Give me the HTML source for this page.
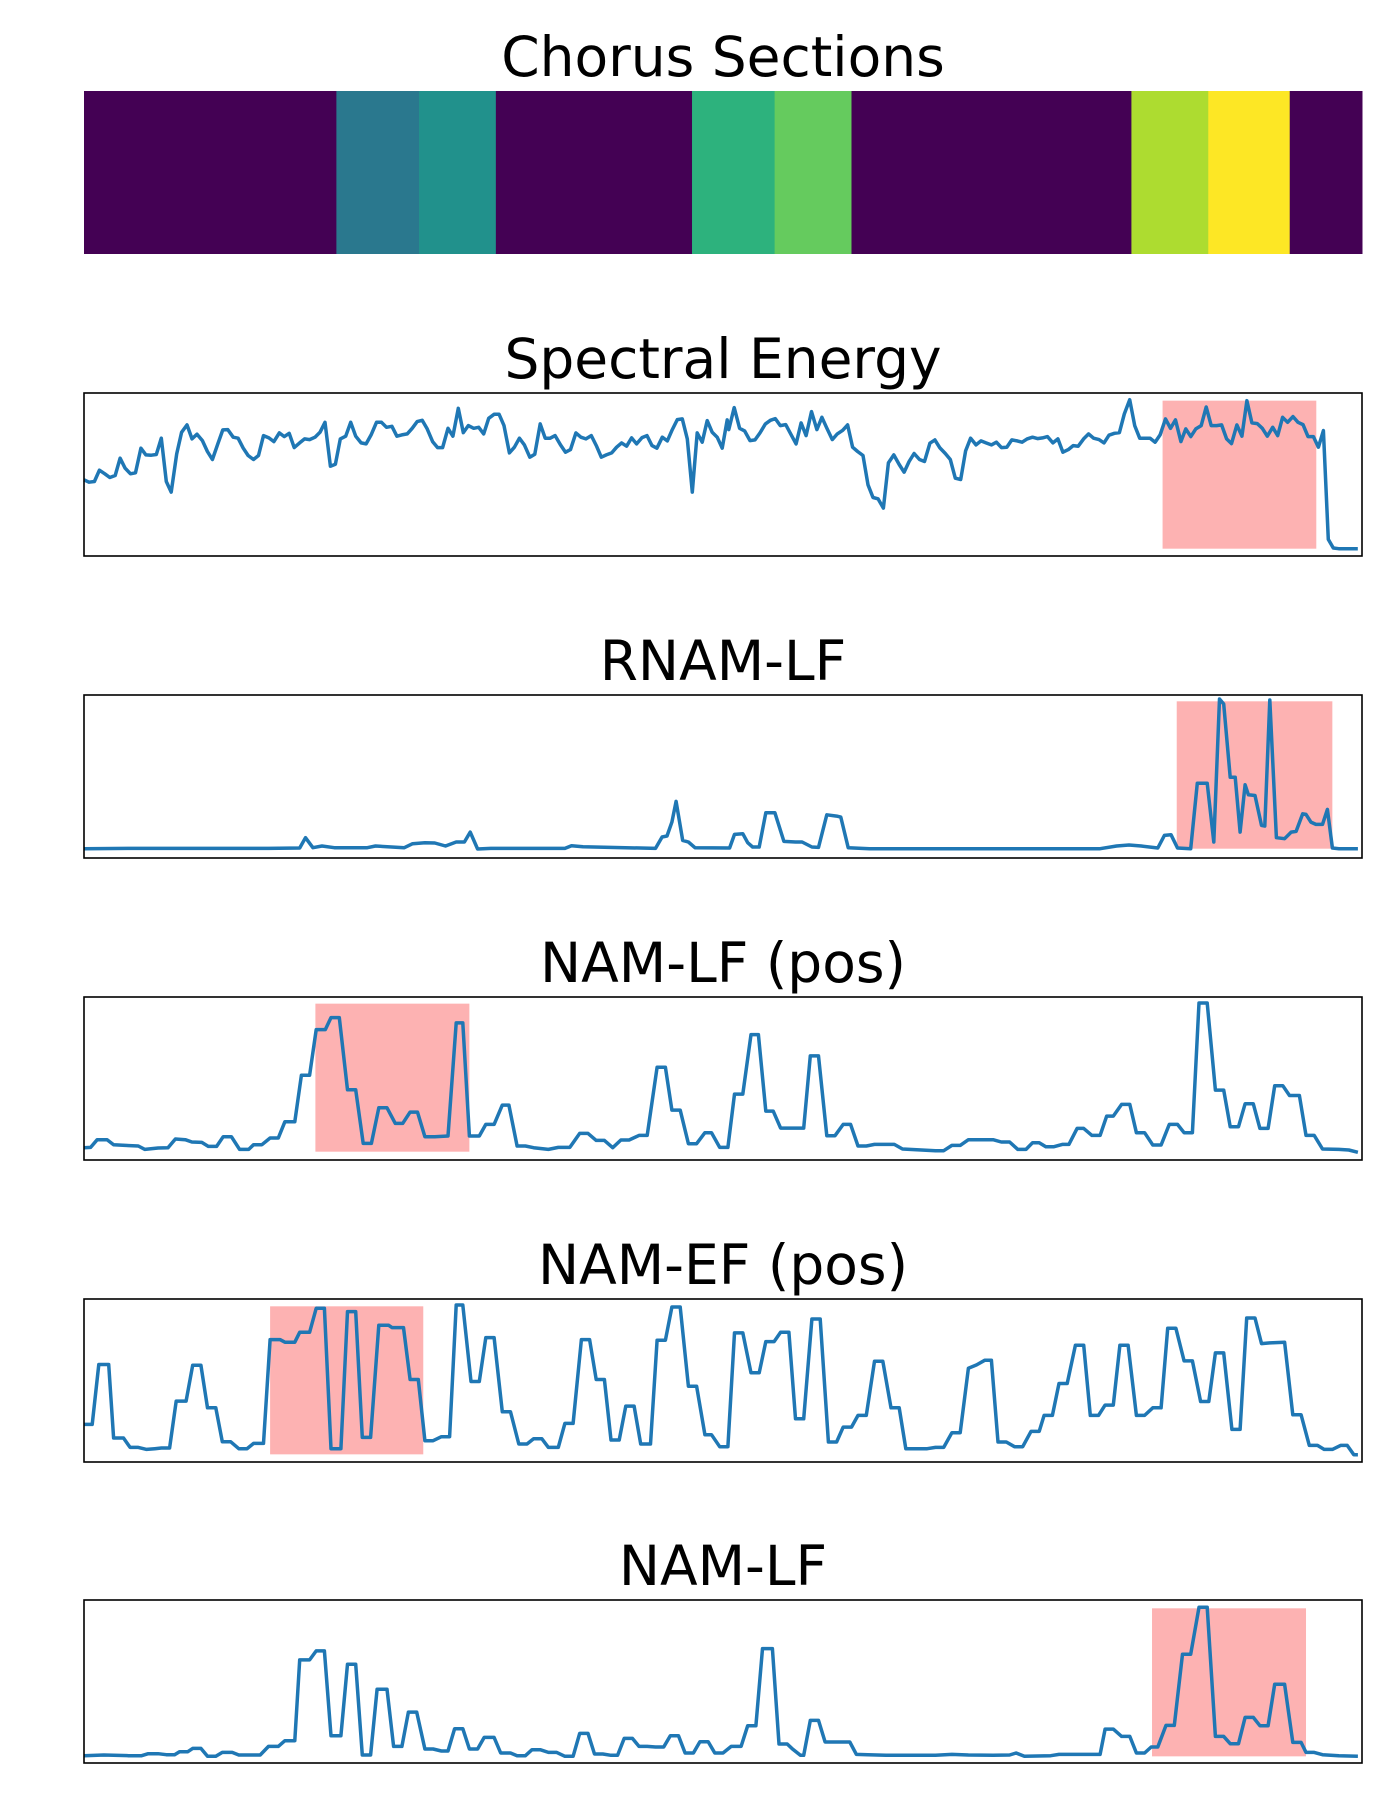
<!DOCTYPE html>
<html><head><meta charset="utf-8">
<style>
html,body{margin:0;padding:0;background:#fff;}
svg{display:block;}
text{font-family:"DejaVu Sans","Liberation Sans",sans-serif;}
</style></head>
<body>
<svg id="fig" width="1400" height="1800" viewBox="0 0 1400 1800" xmlns="http://www.w3.org/2000/svg"></svg>
<script>
// ---- Chorus sections ----
const sectionStarts = [0,220,292,359,530,602,669,913,980,1051];
const sectionEnd = 1114;
const sectionIds = [0,1,2,0,3,4,0,5,6,0];
const sectionColors = ["#440154","#2a788e","#21918c","#2db27d","#65cb5e","#addc30","#fde725"];

// ---- Spectral Energy ----
const spectralTimes = [0,12,25,37,50,62,75,87,99,112,124,137,149,162,174,186,198,210,223,235,248,260,272,285,297,309,322,334,346,359,371,383,395,408,420,432,445,457,470,482,494,506,519,531,543,556,568,580,593,605,617,630,642,654,667,679,691,704,716,728,741,753,765,778,790,802,814,826,839,851,863,876,888,901,913,925,938,950,962,974,987,999,1011,1024,1036,1048,1060,1073,1085,1098,1110,1122,1134,1147,1159,1171,1184,1196,1208,1221,1233,1245,1257,1270,1282,1294,1306,1318,1330,1343,1355,1367,1379,1392,1404,1416,1428,1440,1452,1464,1476,1488,1500,1512,1524,1536,1548,
1552,1565,1578,1590,1603,1615,1627,1640,1652,1664,1676,1689,1701,1714,1726,1738,1751,1764,1776,1788,1801,1813,1826,1838,1850,1862,1875,1887,1899,1911,1924,1936,1949,1962,1974,1986,1998,2011,2023,2036,2048,2060,2073,2085,2097,2110,2122,2134,2147,2159,2171,2184,2196,2208,2221,2233,2246,2258,2270,2283,2295,2307,2319,2332,2344,2356,2369,2381,2393,2406,2418,2430,2443,2455,2467,2480,2492,2504,2517,2529,2541,2554,2566,2578,2590,2603,2615,2627,2640,2652,2664,2676,2689,2701,2713,2726,2738,2750,2762,2775,2787,2799,2811,2824,2836,2848,2861,2873,2885,2897,2910,2922,2934,2946,2959,2971,2983,2995,3007,3020,3032,3044,3066];
const spectralValues = [229,222,224,258,247,236,242,294,264,247,250,324,304,303,305,354,224,192,307,372,394,352,366,347,314,290,337,379,380,357,354,325,302,290,302,362,355,344,370,359,369,326,340,352,350,357,372,402,270,276,352,360,402,360,340,337,364,402,402,387,390,360,364,367,384,404,408,382,344,326,326,384,360,444,371,392,384,387,367,414,426,426,392,310,327,354,334,297,306,397,354,354,362,334,312,320,370,357,352,362,332,297,304,310,327,340,330,355,337,356,362,332,324,357,346,380,410,412,352,192,370,342,407,372,357,324,409,
380,446,384,376,347,349,370,397,408,413,392,395,367,337,400,362,434,380,417,384,350,367,378,394,327,314,302,214,176,172,144,280,304,275,252,284,308,290,284,339,349,325,308,290,234,230,316,354,334,346,340,334,342,326,327,349,346,342,352,357,353,355,359,340,352,312,320,332,330,352,367,354,350,340,363,369,371,427,470,392,354,354,354,342,364,412,384,409,344,382,359,382,392,448,392,392,394,352,338,394,360,467,400,398,384,360,387,362,417,402,419,402,395,359,359,327,377,50,24,22,22,22,22];
const spectralHighlight = [2596,2966,22,467];

// ---- RNAM-LF ----
const rnamTimes = [6,60,230,268,275,284,295,310,350,360,395,405,420,432,445,458,468,475,484,500,590,598,612,700,708,714,720,725,733,740,748,790,796,806,812,818,826,834,845,856,870,878,890,898,908,920,925,934,960,1240,1260,1275,1290,1310,1318,1326,1334,1350,1358,1370,1378,1385,1390,1398,1404,1410,1416,1420,1428,1436,1440,1446,1454,1464,1472,1478,1486,1490,1496,1502,1510,1516,1522,1530,1553];
const rnamValues = [28,29,29,30,61,31,36,31,31,36,31,43,46,45,36,48,48,78,27,29,29,37,34,29,63,66,108,170,53,48,31,30,71,73,46,33,33,136,136,50,48,48,33,32,130,126,123,31,28,28,36,39,36,30,68,70,30,28,225,225,48,478,463,243,243,78,220,190,188,98,96,475,61,58,78,80,133,131,108,101,101,146,30,28,28];
const rnamHighlight = [1333,1522,28,471];

// ---- NAM-LF (pos) ----
const namLfPosTimes = [6,14,22,34,42,56,72,80,96,108,117,129,137,149,157,167,175,185,195,206,212,222,232,242,250,262,270,280,288,299,306,316,326,336,345,355,364,374,384,393,402,411,420,432,448,458,466,474,486,494,504,514,522,532,542,552,570,582,596,608,618,628,638,648,658,668,680,690,702,712,720,730,740,750,760,768,778,788,796,806,816,825,834,843,852,880,888,898,908,918,928,937,946,956,966,990,1000,1040,1050,1060,1070,1080,1110,1120,1130,1140,1150,1158,1166,1174,1184,1194,1202,1212,1220,1230,1240,1248,1256,1266,1276,1284,1294,1304,1314,1324,1334,1342,1352,1360,1370,1380,1390,1398,1408,1416,1426,1434,1444,1452,1462,1470,1482,1490,1500,1510,1530,1542,1553];
const namLfPosValues = [37,38,61,61,46,44,42,32,36,37,63,61,54,53,41,41,70,70,32,32,46,46,66,66,115,115,255,255,392,392,428,428,211,211,50,50,157,157,110,110,144,144,70,70,72,412,412,72,72,107,107,165,165,42,42,37,32,38,38,80,80,59,59,37,60,60,74,74,279,279,150,150,49,49,82,82,38,38,198,198,377,377,147,147,96,96,313,313,73,73,107,107,42,42,47,47,33,28,28,44,44,61,61,54,54,32,32,52,52,40,40,47,47,95,95,74,74,132,132,167,167,82,82,45,45,107,107,82,82,472,472,210,210,100,100,169,169,95,95,223,223,194,194,74,74,33,32,30,23];
const namLfPosHighlight = [287,474,25,470];

// ---- NAM-EF (pos) ----
const namEfPosTimes = [6,16,24,36,42,54,62,72,82,92,100,110,118,130,138,148,156,166,174,184,194,204,212,224,232,244,250,262,268,280,288,298,306,318,326,336,344,354,364,376,380,394,402,412,420,430,440,450,458,466,476,486,494,504,514,524,534,544,552,562,570,582,590,600,610,620,628,638,646,656,664,674,682,694,702,712,720,730,740,750,760,768,778,788,796,806,816,826,834,844,852,862,870,880,890,900,910,920,928,938,946,956,966,976,986,996,1004,1014,1030,1040,1050,1060,1070,1080,1090,1100,1108,1116,1126,1136,1146,1156,1166,1172,1182,1190,1200,1210,1220,1228,1238,1246,1256,1264,1274,1284,1294,1304,1314,1322,1332,1342,1352,1362,1372,1380,1390,1400,1410,1418,1428,1436,1446,1464,1474,1484,1494,1504,1512,1522,1532,1540,1548,1553];
const namEfPosValues = [113,113,293,293,72,72,44,44,38,40,42,42,183,183,291,291,163,163,61,61,40,40,56,56,368,368,360,360,390,390,462,462,40,40,452,452,74,74,411,411,404,404,248,248,64,64,76,76,472,472,242,242,374,374,151,151,54,54,70,70,44,44,116,116,368,368,248,248,66,66,168,168,54,54,366,366,466,466,228,228,82,82,46,46,388,388,268,268,362,362,390,390,130,130,430,430,60,60,105,105,140,140,303,303,163,163,40,40,40,44,44,88,88,282,292,306,306,60,60,46,46,92,92,140,140,236,236,351,351,140,140,171,171,351,351,140,140,163,163,402,402,304,304,182,182,328,328,98,98,433,433,356,358,360,142,142,50,50,38,38,50,50,22,22];
const namEfPosHighlight = [232,418,23,468];

// ---- NAM-LF ----
const namLfTimes = [6,30,60,76,84,96,106,116,122,132,138,148,156,166,174,186,194,220,230,242,250,262,268,280,288,298,306,318,326,336,344,354,362,374,382,392,400,410,420,430,440,448,456,466,474,484,492,504,512,524,532,542,550,560,570,580,590,600,608,618,626,636,646,654,662,672,680,690,700,710,718,728,736,746,754,764,772,782,792,804,812,822,830,842,850,860,866,876,880,888,898,906,916,936,944,958,980,1040,1060,1080,1110,1130,1138,1148,1180,1190,1230,1240,1246,1256,1266,1276,1284,1294,1302,1310,1320,1330,1340,1350,1360,1370,1380,1390,1398,1408,1416,1426,1434,1444,1452,1464,1474,1484,1490,1500,1510,1530,1553];
const namLfValues = [22,24,22,22,28,28,25,25,34,34,44,44,20,20,32,32,24,24,50,50,67,67,310,310,337,337,82,82,297,297,24,24,222,222,50,50,153,153,42,42,36,36,103,103,42,42,77,77,30,30,22,22,40,40,32,32,20,20,89,89,27,27,23,23,74,74,50,50,48,48,82,82,30,30,64,64,30,30,50,50,112,112,344,344,57,57,43,23,23,128,128,63,63,63,26,25,23,23,26,24,23,24,30,20,22,26,26,26,102,102,80,80,30,30,48,48,113,113,327,327,468,468,80,80,58,58,137,137,112,112,237,237,62,62,32,32,25,22,20];
const namLfHighlight = [1303,1490,20,465];

// ---- layout ----
const SVGNS = "http://www.w3.org/2000/svg";
const svg = document.getElementById('fig');
const LEFT = 84, RIGHT = 1362, BOX_H = 163;
function mk(tag, attrs){ const e = document.createElementNS(SVGNS, tag); for (const k in attrs) e.setAttribute(k, attrs[k]); return e; }

// colorbar
const cbTop = 91;
const cbX = t => LEFT + (t / sectionEnd) * (RIGHT - LEFT);
const t0 = mk('text', {x: 723, y: cbTop - 15, 'font-size': 55, 'text-anchor': 'middle', fill: '#000'});
t0.textContent = 'Chorus Sections';


svg.appendChild(t0);
sectionStarts.forEach((s, i) => {
  const e = (i + 1 < sectionStarts.length) ? sectionStarts[i + 1] : sectionEnd;
  const r = mk('rect', {x: cbX(s), y: cbTop, width: cbX(e) - cbX(s) + 0.5, height: BOX_H, fill: sectionColors[sectionIds[i]]});
  
  
  svg.appendChild(r);
});

const panels = [
  {title: 'Spectral Energy', key: 'spectral-energy', top: 393, times: spectralTimes, values: spectralValues, hl: spectralHighlight, xd: [0, 3076]},
  {title: 'RNAM-LF', key: 'rnam-lf', top: 695, times: rnamTimes, values: rnamValues, hl: rnamHighlight, xd: [6, 1558]},
  {title: 'NAM-LF (pos)', key: 'nam-lf-pos', top: 997, times: namLfPosTimes, values: namLfPosValues, hl: namLfPosHighlight, xd: [6, 1558]},
  {title: 'NAM-EF (pos)', key: 'nam-ef-pos', top: 1299, times: namEfPosTimes, values: namEfPosValues, hl: namEfPosHighlight, xd: [6, 1558]},
  {title: 'NAM-LF', key: 'nam-lf', top: 1600, times: namLfTimes, values: namLfValues, hl: namLfHighlight, xd: [6, 1558]}
];
const Y_MAX = 490;

panels.forEach(p => {
  const xs = t => LEFT + (t - p.xd[0]) / (p.xd[1] - p.xd[0]) * (RIGHT - LEFT);
  const ys = v => p.top + BOX_H - (v / Y_MAX) * BOX_H;
  const g = mk('g', {});
  
  
  const tt = mk('text', {x: 723, y: p.top - 15, 'font-size': 55, 'text-anchor': 'middle', fill: '#000'});
  tt.textContent = p.title;
  
  
  g.appendChild(tt);
  const hr = mk('rect', {x: xs(p.hl[0]), y: ys(p.hl[3]), width: xs(p.hl[1]) - xs(p.hl[0]), height: ys(p.hl[2]) - ys(p.hl[3]), fill: '#fdb2b2'});
  
  
  g.appendChild(hr);
  let d = '';
  p.times.forEach((t, i) => { d += (i ? 'L' : 'M') + xs(t).toFixed(1) + ',' + ys(p.values[i]).toFixed(1); });
  const path = mk('path', {d: d, fill: 'none', stroke: '#1f77b4', 'stroke-width': 3.5, 'stroke-linejoin': 'round'});
  
  
  g.appendChild(path);
  const box = mk('rect', {x: LEFT, y: p.top, width: RIGHT - LEFT, height: BOX_H, fill: 'none', stroke: '#000', 'stroke-width': 1.6});
  
  
  g.appendChild(box);
  svg.appendChild(g);
});
</script>
</body></html>
